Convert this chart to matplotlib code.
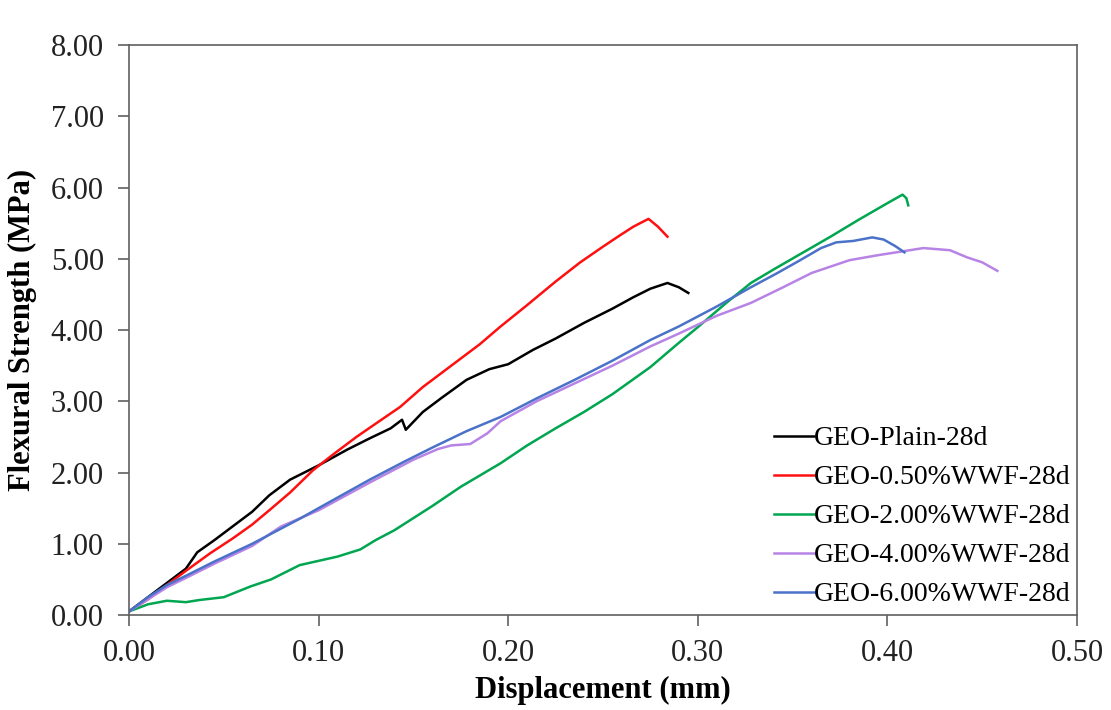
import matplotlib
matplotlib.use("Agg")
import matplotlib.pyplot as plt

# Flexural strength vs displacement, 28 day geopolymer samples
plain_x = [0, 0.01, 0.02, 0.03, 0.036, 0.045, 0.055, 0.065, 0.074, 0.085, 0.10, 0.115,
           0.127, 0.138, 0.144, 0.146, 0.155, 0.165, 0.178, 0.19, 0.20, 0.213, 0.225,
           0.24, 0.255, 0.266, 0.275, 0.284, 0.29, 0.295]
plain_y = [0.05, 0.25, 0.45, 0.65, 0.88, 1.05, 1.25, 1.45, 1.68, 1.9, 2.1, 2.32,
           2.48, 2.62, 2.74, 2.6, 2.85, 3.05, 3.3, 3.45, 3.52, 3.72, 3.88,
           4.1, 4.3, 4.46, 4.58, 4.66, 4.6, 4.52]

wwf05_x = [0, 0.01, 0.02, 0.03, 0.043, 0.055, 0.065, 0.074, 0.085, 0.097, 0.108, 0.12,
           0.132, 0.143, 0.155, 0.17, 0.185, 0.196, 0.21, 0.225, 0.238, 0.25, 0.259,
           0.266, 0.274, 0.279, 0.284]
wwf05_y = [0.05, 0.22, 0.42, 0.62, 0.87, 1.08, 1.27, 1.47, 1.72, 2.03, 2.26, 2.5,
           2.72, 2.92, 3.2, 3.5, 3.8, 4.05, 4.35, 4.68, 4.95, 5.17, 5.33,
           5.45, 5.56, 5.45, 5.31]

wwf2_x = [0, 0.01, 0.02, 0.03, 0.037, 0.05, 0.064, 0.075, 0.09, 0.10, 0.11, 0.122,
          0.13, 0.14, 0.15, 0.16, 0.175, 0.196, 0.21, 0.225, 0.24, 0.255, 0.275,
          0.29, 0.30, 0.315, 0.328, 0.34, 0.355, 0.37, 0.385, 0.40, 0.408, 0.41, 0.411]
wwf2_y = [0.05, 0.15, 0.2, 0.18, 0.21, 0.25, 0.4, 0.5, 0.7, 0.76, 0.82, 0.92,
          1.05, 1.19, 1.36, 1.53, 1.8, 2.13, 2.38, 2.62, 2.85, 3.1, 3.48,
          3.82, 4.04, 4.38, 4.66, 4.85, 5.08, 5.31, 5.55, 5.78, 5.9, 5.85, 5.75]

wwf4_x = [0, 0.01, 0.02, 0.03, 0.045, 0.065, 0.08, 0.10, 0.127, 0.15, 0.163, 0.17,
          0.18, 0.189, 0.196, 0.215, 0.235, 0.255, 0.275, 0.29, 0.31, 0.328, 0.345,
          0.36, 0.38, 0.395, 0.407, 0.419, 0.433, 0.442, 0.45, 0.458]
wwf4_y = [0.05, 0.22, 0.39, 0.52, 0.72, 0.97, 1.24, 1.47, 1.86, 2.18, 2.33, 2.38,
          2.4, 2.55, 2.72, 3.0, 3.25, 3.5, 3.77, 3.95, 4.2, 4.38, 4.6,
          4.8, 4.98, 5.05, 5.1, 5.15, 5.12, 5.02, 4.95, 4.83]

wwf6_x = [0, 0.01, 0.02, 0.03, 0.045, 0.065, 0.09, 0.10, 0.127, 0.145, 0.16, 0.178,
          0.196, 0.215, 0.235, 0.255, 0.275, 0.29, 0.31, 0.328, 0.342, 0.354, 0.365,
          0.373, 0.382, 0.392, 0.398, 0.404, 0.409]
wwf6_y = [0.05, 0.25, 0.42, 0.55, 0.75, 1.0, 1.35, 1.5, 1.9, 2.15, 2.35, 2.58,
          2.78, 3.04, 3.3, 3.57, 3.86, 4.05, 4.33, 4.6, 4.8, 4.98, 5.15,
          5.23, 5.25, 5.3, 5.27, 5.18, 5.09]

labels = ['GEO-Plain-28d', 'GEO-0.50%WWF-28d', 'GEO-2.00%WWF-28d',
          'GEO-4.00%WWF-28d', 'GEO-6.00%WWF-28d']
xticks = [0.0, 0.1, 0.2, 0.3, 0.4, 0.5]
yticks = [0, 1, 2, 3, 4, 5, 6, 7, 8]

plt.rcParams['font.family'] = ['Liberation Serif', 'DejaVu Serif']

fig = plt.figure(figsize=(11.11, 7.10), dpi=100)
ax = fig.add_axes([0.1161, 0.1338, 0.8533, 0.8028])

series = [(plain_x, plain_y), (wwf05_x, wwf05_y), (wwf2_x, wwf2_y),
          (wwf4_x, wwf4_y), (wwf6_x, wwf6_y)]
colors = ['#000000', '#ff1010', '#00a650', '#b784e6', '#4a72c8']

for (xs, ys), c, lab in zip(series, colors, labels):
    ax.plot(xs, ys, color=c, linewidth=1.8, label=lab)

ax.set_xlim(0, 0.5)
ax.set_ylim(0, 8)
ax.set_xticks(xticks)
ax.set_yticks(yticks)
ax.set_xticklabels([f"{v:.2f}" for v in xticks])
ax.set_yticklabels([f"{v:.2f}" for v in yticks])
ax.tick_params(direction='out', length=8, width=1.2, color='#606060',
               labelsize=22, labelcolor='#222222', top=False, right=False)
ax.tick_params(axis='x', pad=9)
ax.tick_params(axis='y', pad=10)
for sp in ax.spines.values():
    sp.set_color('#606060')
    sp.set_linewidth(1.2)

ax.set_xlabel('Displacement (mm)', fontsize=22, fontweight='bold', labelpad=6)
ax.set_ylabel('Flexural Strength (MPa)', fontsize=22, fontweight='bold', labelpad=10)

ax.legend(loc='lower right', bbox_to_anchor=(1.011, -0.016), frameon=False,
          fontsize=20, handlelength=1.45, handletextpad=0.0, labelspacing=0.49,
          borderaxespad=0.2)

fig.savefig('out.png', dpi=100)
